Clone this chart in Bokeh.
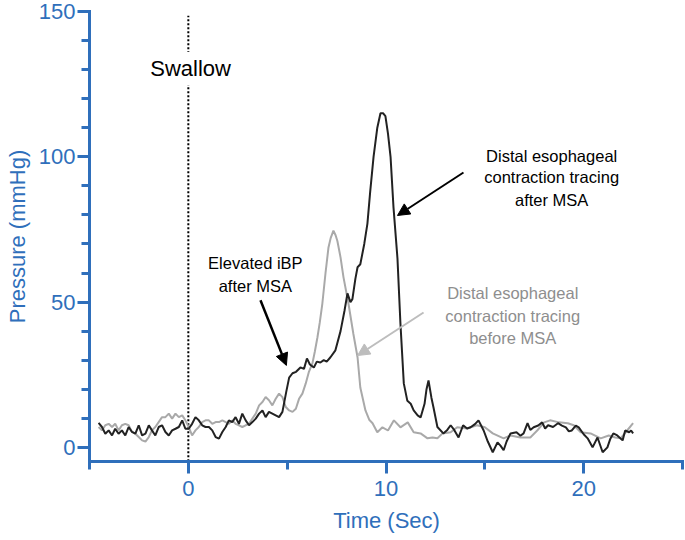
from bokeh.plotting import figure
from bokeh.models import Range1d, FixedTicker, Label, Arrow, NormalHead
from bokeh.embed import file_html
from bokeh.resources import INLINE

# ---------------- data ----------------
# After MSA (black trace)
after_t = [-4.54, -4.37, -4.20, -4.03, -3.86, -3.70, -3.53, -3.36, -3.19, -3.02,
           -2.85, -2.68, -2.51, -2.34, -2.17, -2.00, -1.84, -1.67, -1.50, -1.33,
           -1.16, -0.99, -0.82, -0.65, -0.48, -0.31, -0.15, 0.02, 0.19, 0.36,
           0.53, 0.70, 0.87, 1.04, 1.21, 1.38, 1.55, 1.72, 1.89, 2.05,
           2.22, 2.39, 2.56, 2.73, 2.90, 3.07, 3.24, 3.41, 3.58, 3.75,
           3.91, 4.08, 4.25, 4.42, 4.59, 4.76, 4.95, 5.10, 5.27, 5.45,
           5.67, 5.85, 6.00, 6.15, 6.35, 6.50, 6.68, 6.85, 7.00, 7.19,
           7.44, 7.70, 7.90, 8.05, 8.20, 8.30, 8.45, 8.56, 8.70, 8.90,
           9.06, 9.20, 9.37, 9.56, 9.72, 9.85, 9.97, 10.10, 10.23, 10.38,
           10.58, 10.73, 10.90, 11.08, 11.25, 11.40, 11.60, 11.75, 11.95, 12.05,
           12.15, 12.30, 12.40, 12.60, 12.90, 13.10, 13.27, 13.45, 13.67, 13.90,
           14.10, 14.28, 14.50, 14.68, 14.94, 15.15, 15.40, 15.64, 15.80, 15.95,
           16.10, 16.30, 16.60, 16.80, 16.96, 17.16, 17.30, 17.47, 17.70, 17.90,
           18.05, 18.20, 18.45, 18.70, 18.90, 19.10, 19.25, 19.40, 19.60, 19.75,
           20.00, 20.20, 20.45, 20.70, 20.96, 21.20, 21.35, 21.50, 21.70, 21.97,
           22.10, 22.30, 22.40, 22.50]
after_p = [8.4, 7.0, 4.7, 5.85, 4.1, 6.4, 4.7, 5.85, 4.1, 7.0,
           5.3, 4.7, 7.6, 4.1, 4.7, 7.6, 5.85, 4.1, 7.0, 7.6,
           5.3, 4.1, 5.85, 6.4, 7.0, 9.3, 6.4, 6.4, 8.1, 10.4,
           9.3, 7.6, 7.0, 7.0, 5.85, 3.55, 3.0, 5.3, 7.0, 9.3,
           8.7, 10.4, 8.1, 11.6, 9.3, 7.6, 8.7, 9.9, 11.6, 12.7,
           10.4, 12.2, 11.6, 11.0, 10.4, 12.2, 19.0, 24.0, 25.5, 26.0,
           27.5, 27.0, 30.6, 28.5, 27.5, 29.5, 29.2, 30.0, 29.5, 31.0,
           33.4, 40.0, 47.0, 53.0, 50.0, 51.0, 58.0, 62.0, 63.0, 70.0,
           77.0, 88.0, 100.0, 110.0, 115.0, 115.0, 114.0, 108.0, 100.0, 82.5,
           65.0, 42.6, 22.0, 16.0, 15.0, 12.7, 11.0, 10.3, 15.0, 20.0,
           23.0, 17.0, 13.8, 7.0, 4.8, 6.0, 7.6, 6.0, 3.4, 7.6,
           6.5, 6.9, 8.0, 9.3, 5.8, 2.0, -1.7, 1.7, 0.5, -1.0,
           2.0, 4.8, 5.2, 4.0, 4.8, 8.3, 6.0, 6.9, 7.5, 8.6,
           6.5, 7.6, 7.0, 8.3, 7.5, 6.9, 5.5, 5.8, 7.5, 6.9,
           4.5, 3.1, 0.0, 3.4, -1.7, 0.0, 3.0, 4.8, 4.1, 2.4,
           5.8, 5.2, 5.8, 4.8]

# Before MSA (grey trace)
before_t = [-4.54, -4.37, -4.20, -4.03, -3.86, -3.70, -3.53, -3.36, -3.19, -3.02,
            -2.85, -2.68, -2.51, -2.34, -2.17, -2.00, -1.84, -1.67, -1.50, -1.33,
            -1.16, -0.99, -0.82, -0.65, -0.48, -0.31, -0.15, 0.02, 0.19, 0.36,
            0.53, 0.70, 0.87, 1.04, 1.21, 1.38, 1.55, 1.72, 1.89, 2.05,
            2.22, 2.39, 2.56, 2.73, 2.90, 3.07, 3.24, 3.41, 3.58, 3.75,
            3.91, 4.08, 4.25, 4.42, 4.59, 4.76, 4.93, 5.10, 5.27, 5.44,
            5.60, 5.77, 5.94, 6.10, 6.28, 6.40, 6.53, 6.65, 6.78, 6.94,
            7.09, 7.20, 7.34, 7.45, 7.54, 7.70, 7.85, 8.10, 8.35, 8.56,
            8.70, 8.96, 9.15, 9.32, 9.56, 9.82, 10.10, 10.40, 10.73, 11.10,
            11.40, 11.75, 12.10, 12.35, 12.60, 12.86, 13.27, 13.60, 14.10, 14.60,
            15.00, 15.40, 15.95, 16.30, 16.80, 17.30, 17.65, 18.00, 18.30, 18.75,
            19.20, 19.50, 19.85, 20.35, 20.86, 21.27, 21.60, 21.87, 22.20, 22.50]
before_p = [7.0, 5.85, 7.6, 8.1, 7.0, 8.1, 5.85, 7.6, 8.1, 7.6,
            5.3, 4.7, 3.55, 2.4, 2.0, 3.55, 5.85, 7.0, 8.7, 10.4,
            10.4, 11.6, 9.9, 11.6, 10.4, 11.0, 9.3, 7.0, 4.1, 5.85,
            7.0, 8.7, 9.3, 9.3, 8.1, 8.7, 8.7, 9.3, 8.7, 8.1,
            9.3, 8.1, 7.6, 7.0, 7.6, 8.1, 9.9, 11.6, 14.45, 15.6,
            17.3, 16.2, 14.45, 16.7, 18.5, 17.3, 13.9, 12.7, 12.2, 13.3,
            16.7, 18.5, 22.0, 26.0, 29.0, 33.0, 37.8, 43.0, 49.5, 60.0,
            68.8, 72.0, 74.6, 73.0, 71.0, 65.4, 58.5, 49.5, 39.0, 31.0,
            20.6, 12.7, 9.5, 8.3, 5.2, 6.9, 5.8, 9.3, 6.9, 8.6,
            5.2, 4.8, 3.1, 3.4, 3.1, 4.8, 5.2, 6.9, 6.5, 7.6,
            6.9, 4.8, 3.1, 4.1, 3.4, 3.4, 5.8, 8.6, 9.3, 8.6,
            8.3, 7.6, 5.2, 4.8, 3.1, 4.1, 3.4, 3.1, 5.8, 8.3]

swallow_time = 0
x_major = [0, 10, 20]
x_minor = [-5, 5, 15, 25]
y_major = [0, 50, 100, 150]
y_minor = [10, 20, 30, 40, 60, 70, 80, 90, 110, 120, 130, 140]

# ---------------- styles ----------------
BLUE = "#2f6fbb"
FONT = "Liberation Sans"

p = figure(frame_width=594, frame_height=450, output_backend="svg",
           toolbar_location=None,
           x_range=Range1d(-5.0, 25.05), y_range=Range1d(-4.87, 150.0),
           min_border_left=89, min_border_right=1, min_border_top=11,
           min_border_bottom=79)
p.outline_line_color = None
p.grid.visible = False
p.background_fill_color = "white"

for ax in (p.xaxis[0], p.yaxis[0]):
    ax.axis_line_color = BLUE
    ax.axis_line_width = 3
    ax.axis_line_cap = "square"
    ax.major_tick_line_color = BLUE
    ax.major_tick_line_width = 3
    ax.major_tick_out = 12
    ax.major_tick_in = 0
    ax.minor_tick_line_color = BLUE
    ax.minor_tick_line_width = 3
    ax.minor_tick_out = 8
    ax.minor_tick_in = 0
    ax.major_label_text_color = BLUE
    ax.major_label_text_font = FONT
    ax.major_label_text_font_size = "22px"
    ax.axis_label_text_color = BLUE
    ax.axis_label_text_font = FONT
    ax.axis_label_text_font_size = "22px"
    ax.axis_label_text_font_style = "normal"

p.xaxis.ticker = FixedTicker(ticks=x_major, minor_ticks=x_minor)
p.yaxis.ticker = FixedTicker(ticks=y_major, minor_ticks=y_minor)
p.xaxis.axis_label = "Time (Sec)"
p.yaxis.axis_label = "Pressure (mmHg)"
p.xaxis.major_label_standoff = 7
p.yaxis.major_label_standoff = 2
p.xaxis.axis_label_standoff = 9
p.yaxis.axis_label_standoff = 6

# swallow marker (dotted)
p.segment(x0=[swallow_time], y0=[-4.8], x1=[swallow_time], y1=[148.5],
          line_color="black", line_width=2, line_dash="2 2")

# traces
p.line(before_t, before_p, line_color="#a9a9a9", line_width=2)
p.line(after_t, after_p, line_color="#222222", line_width=2)

# Swallow label with white background (interrupts dotted line)
p.add_layout(Label(x=-2.13, y=130.4, text="Swallow", text_align="left",
                   text_baseline="middle", text_font=FONT, text_font_size="22px",
                   text_color="black", background_fill_color="white",
                   padding=4))

def lines(texts, xc, ys, color):
    for t, y in zip(texts, ys):
        p.add_layout(Label(x=xc, y=y, text=t, text_align="center",
                           text_baseline="middle", text_font=FONT,
                           text_font_size="16.5px", text_color=color))

lines(["Elevated iBP", "after MSA"], 3.39, [63.3, 55.7], "black")
lines(["Distal esophageal", "contraction tracing", "after MSA"], 18.38,
      [100.4, 92.9, 85.0], "black")
lines(["Distal esophageal", "contraction tracing", "before MSA"], 16.41,
      [53.0, 45.1, 37.5], "#8e8e8e")

# arrows
p.add_layout(Arrow(end=NormalHead(size=12, fill_color="black", line_color="black"),
                   x_start=13.92, y_start=94.6, x_end=10.58, y_end=79.8,
                   line_color="black", line_width=2))
p.add_layout(Arrow(end=NormalHead(size=12, fill_color="#bdbdbd", line_color="#bdbdbd"),
                   x_start=11.90, y_start=46.4, x_end=8.56, y_end=31.6,
                   line_color="#bdbdbd", line_width=2))
p.add_layout(Arrow(end=NormalHead(size=12, fill_color="black", line_color="black"),
                   x_start=3.65, y_start=50.6, x_end=4.96, y_end=28.2,
                   line_color="black", line_width=2.5))

open("out.html", "w").write(file_html(p, INLINE))
